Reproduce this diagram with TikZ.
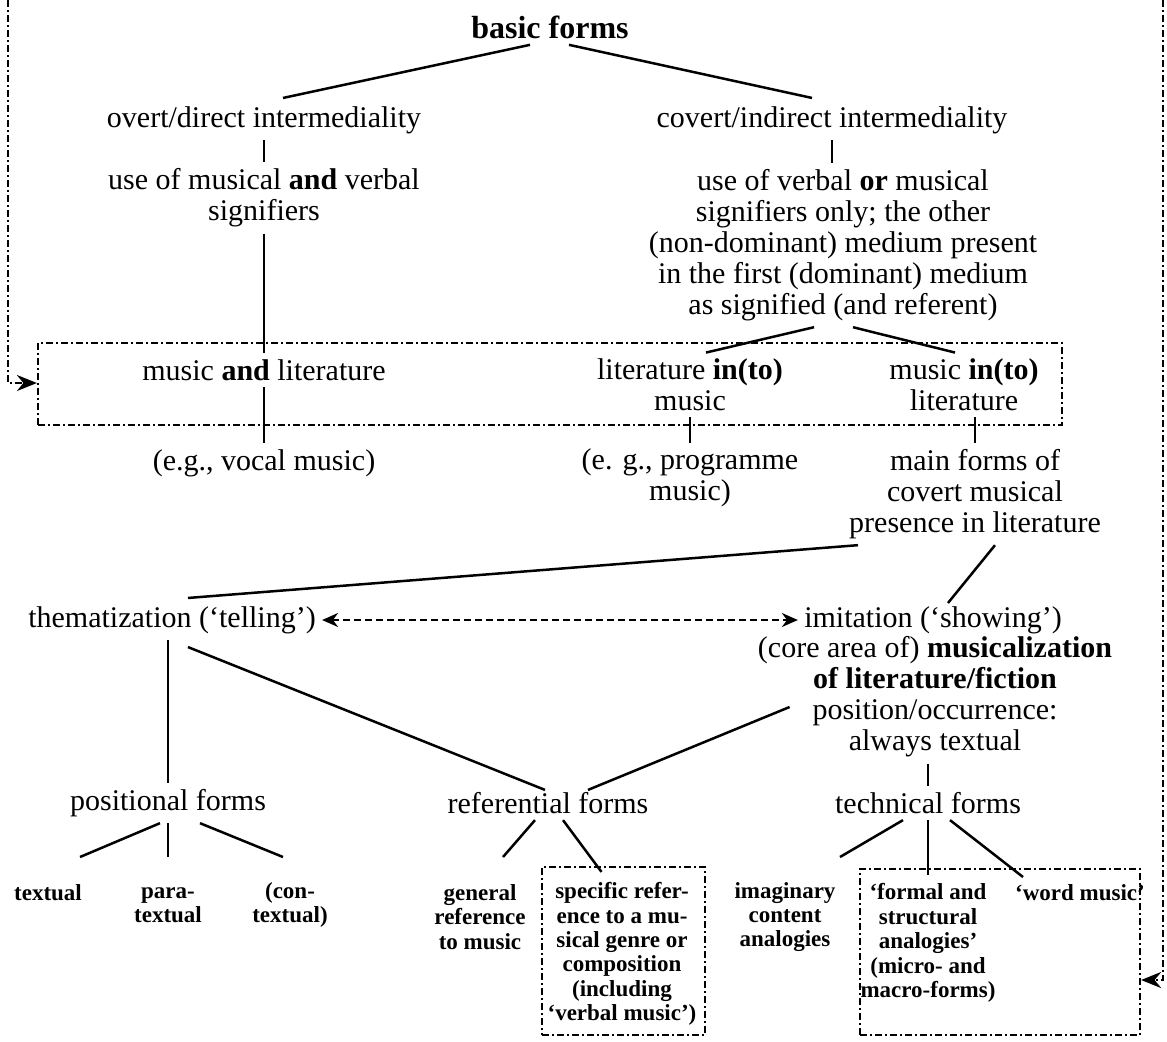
\documentclass[tikz,border=0pt]{standalone}
\usepackage{fontspec}
\setmainfont{Liberation Serif}
\usetikzlibrary{arrows.meta, positioning, fit}
\tikzset{
  toptxt/.style={align=center, inner sep=3pt,
    font=\fontsize{16}{18}\selectfont\bfseries},
  txt/.style={align=center, inner sep=3pt,
    font=\fontsize{15}{15.5}\selectfont},
  smalltxt/.style={align=center, inner sep=2pt,
    font=\fontsize{11.5}{12.2}\selectfont\bfseries},
  tline/.style={line width=1.25pt},
  ddbox/.style={draw, line width=1.1pt, inner sep=0pt,
    dash pattern=on 3.5pt off 1.5pt on 1pt off 1.5pt},
  loopline/.style={line width=1.1pt,
    dash pattern=on 3.5pt off 1.5pt on 1pt off 1.5pt,
    -{Stealth[length=10pt, width=8pt, sep=0pt]}},
  dasharrow/.style={line width=1.1pt, dash pattern=on 3.5pt off 2pt,
    {Stealth[length=8pt, width=7pt]}-{Stealth[length=8pt, width=7pt]}}
}
\begin{document}
\begin{tikzpicture}[x=0.5pt, y=-0.5pt]
  \useasboundingbox (0,0) rectangle (1167,1041);

  %% Row 1: basic forms and the two kinds of intermediality
  \node[toptxt] (basic) at (550,27) {basic forms};
  \node[txt] (overt) at (264,120) {overt/direct intermediality};
  \node[txt] (covert) at (832,120) {covert/indirect intermediality};
  \node[txt] (useA) at (264,198)
    {use of musical \textbf{and} verbal\\signifiers};
  \node[txt] (useB) at (843,245)
    {use of verbal \textbf{or} musical\\signifiers only; the other\\(non-dominant) medium present\\in the first (dominant) medium\\as signified (and referent)};

  %% Row 2: the dash-dotted frame
  \node[txt] (muslitA) at (264,370) {music \textbf{and} literature};
  \node[txt] (litmus) at (690,385) {literature \textbf{in(to)}\\music};
  \node[txt] (muslitB) at (964,385) {music \textbf{in(to)}\\literature};
  \node[ddbox, fit={(38,343) (1062,425)}] (midframe) {};

  %% Row 3: examples
  \node[txt] (egvocal) at (264,463) {(e.g., vocal music)};
  \node[txt] (egprog) at (690,478) {(e. g., programme\\music)};
  \node[txt] (mainforms) at (975,494)
    {main forms of\\covert musical\\presence in literature};

  %% Row 4: thematization and imitation
  \node[txt] (them) at (172,620) {thematization (‘telling’)};
  \node[txt] (imit) at (933,620) {imitation (‘showing’)};
  \node[txt] (imitdesc) at (935,697)
    {(core area of) \textbf{musicalization}\\\textbf{of literature/fiction}\\position/occurrence:\\always textual};

  %% Row 5: forms
  \node[txt] (posf) at (168,803) {positional forms};
  \node[txt] (reff) at (548,803) {referential forms};
  \node[txt] (techf) at (928,803) {technical forms};

  %% Row 6: sub-forms
  \node[smalltxt] (textual) at (48,893) {textual};
  \node[smalltxt] (para) at (168,905) {para-\\textual};
  \node[smalltxt] (context) at (290,905) {(con-\\textual)};
  \node[smalltxt] (general) at (480,917) {general\\reference\\to music};
  \node[smalltxt] (specific) at (622,954)
    {specific refer-\\ence to a mu-\\sical genre or\\composition\\(including\\‘verbal music’)};
  \node[smalltxt] (imag) at (785,917) {imaginary\\content\\analogies};
  \node[smalltxt] (formal) at (928,943)
    {‘formal and\\structural\\analogies’\\(micro- and\\macro-forms)};
  \node[smalltxt] (word) at (1080,893) {‘word music’};
  \node[ddbox, fit={(542,867) (705,1035)}] (specframe) {};
  \node[ddbox, fit={(860,869) (1140,1035)}] (techframe) {};

  %% Loops along the page edges
  \coordinate (ltop) at (8,0);
  \coordinate (lturn) at (8,383);
  \coordinate (rtop) at (1163,0);
  \coordinate (rturn) at (1163,980);
  \draw[loopline] (ltop) -- (lturn) -- (lturn -| midframe.west);
  \draw[loopline] (rtop) -- (rturn) -- (rturn -| techframe.east);

  %% Lines: top part
  \draw[tline] ([shift={(-20,0)}]basic.south) -- ([shift={(19,-2)}]overt.north);
  \draw[tline] ([shift={(19,0)}]basic.south) -- ([shift={(-20,-2)}]covert.north);
  \draw[tline] (overt.south) -- (useA.north);
  \draw[tline] (covert.south) -- (covert.south |- useB.north);
  \draw[tline] (useA.south) -- (muslitA.north);
  \draw[tline] (muslitA.south) -- (egvocal.north);
  \draw[tline] ([shift={(-29,0)}]useB.south) -- ([shift={(16,0)}]litmus.north);
  \draw[tline] ([shift={(10,0)}]useB.south) -- ([shift={(-9,0)}]muslitB.north);
  \draw[tline] (litmus.south) -- (egprog.north);
  \draw[tline] (mainforms.north |- muslitB.south) -- (mainforms.north);

  %% Lines: middle part
  \draw[tline] ([shift={(-117,0)}]mainforms.south) -- ([shift={(16,-2)}]them.north);
  \draw[tline] ([shift={(20,0)}]mainforms.south) -- ([shift={(15,3)}]imit.north);
  \draw[dasharrow] (them.east) -- (imit.west);
  \draw[tline] (posf.north |- them.south) -- (posf.north);
  \draw[tline] ([shift={(16,7)}]them.south) -- ([shift={(-3,4)}]reff.north);
  \draw[tline] ([shift={(38,10)}]imitdesc.west) -- ([shift={(40,4)}]reff.north);
  \draw[tline] (techf.north |- imitdesc.south) -- (techf.north);

  %% Lines: bottom part
  \draw[tline] ([shift={(-8,0)}]posf.south) -- ([shift={(32,-36)}]textual.center);
  \draw[tline] (posf.south) -- ([shift={(0,-48)}]para.center);
  \draw[tline] ([shift={(32,0)}]posf.south) -- ([shift={(-7,-48)}]context.center);
  \draw[tline] ([shift={(-13,0)}]reff.south) -- ([shift={(23,-60)}]general.center);
  \draw[tline] ([shift={(15,0)}]reff.south) -- ([shift={(-22,6)}]specframe.north);
  \draw[tline] ([shift={(-25,0)}]techf.south) -- ([shift={(55,-60)}]imag.center);
  \draw[tline] (techf.south) -- ([shift={(0,-68)}]formal.center);
  \draw[tline] ([shift={(22,0)}]techf.south) -- ([shift={(-57,-16)}]word.center);
\end{tikzpicture}
\end{document}
